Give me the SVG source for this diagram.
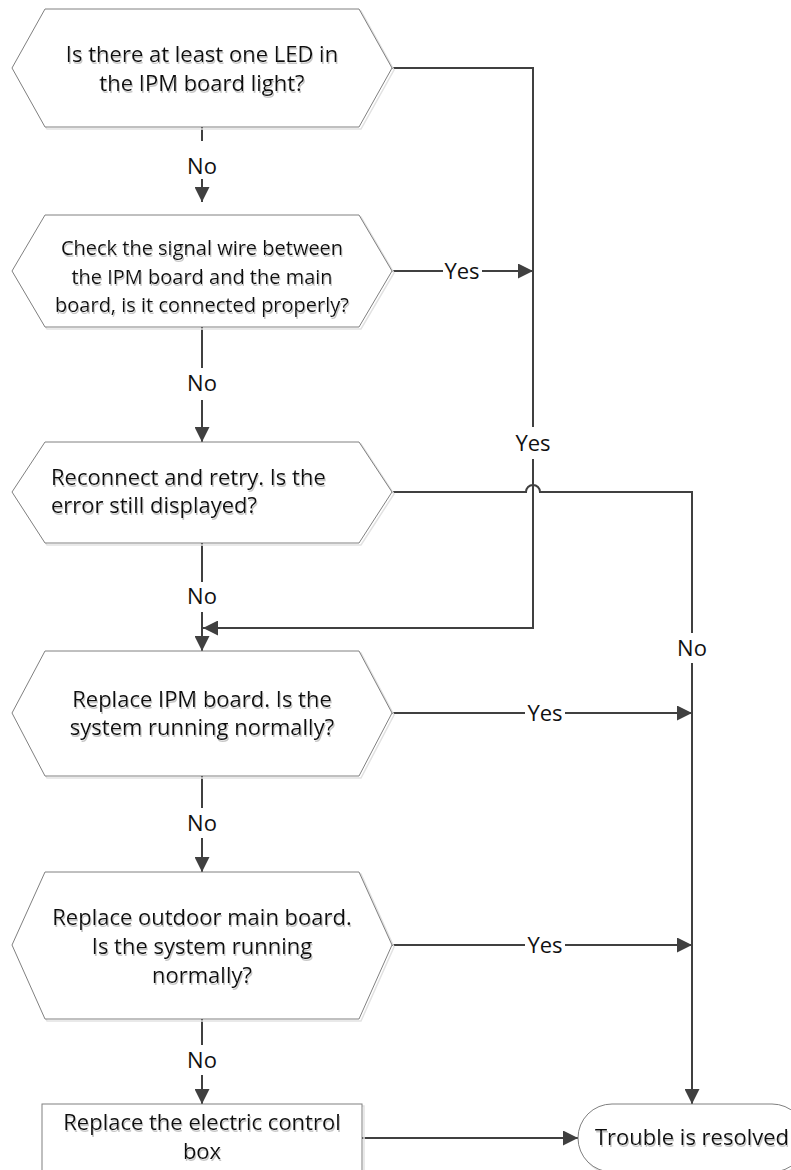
<svg xmlns="http://www.w3.org/2000/svg" width="791" height="1170" viewBox="0 0 791 1170">
<style>
.shadow{fill:none;stroke:#e2e2e2;stroke-width:1.5}
.shape{fill:#ffffff;stroke:#808080;stroke-width:1}
.t{font-family:"Open Sans","Noto Sans","DejaVu Sans",sans-serif;font-size:22px;fill:#111111}
.s{font-size:20px}
.c{text-anchor:middle}
.conn{fill:none;stroke:#404040;stroke-width:2}
.lblbg{fill:#ffffff}
.lbl{font-family:"Open Sans","Noto Sans","DejaVu Sans",sans-serif;font-size:22px;fill:#111111;text-anchor:middle}
</style>
<defs>
<marker id="arr" viewBox="0 0 15 15" refX="15" refY="7.5" markerWidth="15" markerHeight="15" orient="auto" markerUnits="userSpaceOnUse">
<path d="M0,0 L15,7.5 L0,15 z" fill="#404040"/>
</marker>
<filter id="ts" x="-5%" y="-20%" width="110%" height="150%">
<feDropShadow dx="1" dy="2" stdDeviation="0.6" flood-color="#b8b8b8" flood-opacity="0.8"/>
</filter>
</defs>
<rect width="791" height="1170" fill="#ffffff"/>

<g id="connectors">
<path class="conn" d="M202,127 V202" marker-end="url(#arr)"/>
<path class="conn" d="M202,327 V442" marker-end="url(#arr)"/>
<path class="conn" d="M202,543 V651" marker-end="url(#arr)"/>
<path class="conn" d="M202,776 V872" marker-end="url(#arr)"/>
<path class="conn" d="M202,1019 V1104" marker-end="url(#arr)"/>
<path class="conn" d="M392,68 H533 V628 H203" marker-end="url(#arr)"/>
<path class="conn" d="M392,271 H533" marker-end="url(#arr)"/>
<path class="conn" d="M392,492 H526 A7,7 0 0 1 540,492 H692 V1104" marker-end="url(#arr)"/>
<path class="conn" d="M392,713 H692" marker-end="url(#arr)"/>
<path class="conn" d="M392,945 H692" marker-end="url(#arr)"/>
<path class="conn" d="M362,1138 H578" marker-end="url(#arr)"/>
<rect class="lblbg" x="188" y="141" width="28" height="38"/>
<text class="lbl" x="202" y="174">No</text>
<rect class="lblbg" x="188" y="368" width="28" height="32"/>
<text class="lbl" x="202" y="391">No</text>
<rect class="lblbg" x="188" y="582" width="28" height="30"/>
<text class="lbl" x="202" y="604">No</text>
<rect class="lblbg" x="188" y="808" width="28" height="30"/>
<text class="lbl" x="202" y="831">No</text>
<rect class="lblbg" x="188" y="1045" width="28" height="30"/>
<text class="lbl" x="202" y="1068">No</text>
<rect class="lblbg" x="513" y="427" width="40" height="32"/>
<text class="lbl" x="533" y="451">Yes</text>
<rect class="lblbg" x="443" y="262" width="39" height="18"/>
<text class="lbl" x="462" y="279">Yes</text>
<rect class="lblbg" x="678" y="633" width="28" height="30"/>
<text class="lbl" x="692" y="656">No</text>
<rect class="lblbg" x="525" y="704" width="40" height="18"/>
<text class="lbl" x="545" y="721">Yes</text>
<rect class="lblbg" x="525" y="936" width="40" height="18"/>
<text class="lbl" x="545" y="953">Yes</text>
</g>

<g id="n1">
<polygon class="shadow" points="14,70 47,11 361,11 394,70 361,129 47,129"/>
<polygon class="shape" points="12,68 45,9 359,9 392,68 359,127 45,127"/>
<g filter="url(#ts)">
<text class="t c" x="202" y="62">Is there at least one LED in</text>
<text class="t c" x="202" y="91">the IPM board light?</text>
</g>
</g>

<g id="n2">
<polygon class="shadow" points="14,273 47,217 361,217 394,273 361,329 47,329"/>
<polygon class="shape" points="12,271 45,215 359,215 392,271 359,327 45,327"/>
<g filter="url(#ts)">
<text class="t s c" x="202" y="255">Check the signal wire between</text>
<text class="t s c" x="202" y="284">the IPM board and the main</text>
<text class="t s c" x="202" y="312">board, is it connected properly?</text>
</g>
</g>

<g id="n3">
<polygon class="shadow" points="14,494 47,444 361,444 394,494 361,545 47,545"/>
<polygon class="shape" points="12,492 45,442 359,442 392,492 359,543 45,543"/>
<g filter="url(#ts)">
<text class="t" x="51" y="485">Reconnect and retry. Is the</text>
<text class="t" x="51" y="513">error still displayed?</text>
</g>
</g>

<g id="n4">
<polygon class="shadow" points="14,715 47,653 361,653 394,715 361,778 47,778"/>
<polygon class="shape" points="12,713 45,651 359,651 392,713 359,776 45,776"/>
<g filter="url(#ts)">
<text class="t c" x="202" y="707">Replace IPM board. Is the</text>
<text class="t c" x="202" y="735">system running normally?</text>
</g>
</g>

<g id="n5">
<polygon class="shadow" points="14,947 47,874 361,874 394,947 361,1021 47,1021"/>
<polygon class="shape" points="12,945 45,872 359,872 392,945 359,1019 45,1019"/>
<g filter="url(#ts)">
<text class="t c" x="202" y="925">Replace outdoor main board.</text>
<text class="t c" x="202" y="954">Is the system running</text>
<text class="t c" x="202" y="983">normally?</text>
</g>
</g>

<g id="n6">
<rect class="shadow" x="44" y="1106" width="320" height="68"/>
<rect class="shape" x="42" y="1104" width="320" height="68"/>
<g filter="url(#ts)">
<text class="t c" x="202" y="1130">Replace the electric control</text>
<text class="t c" x="202" y="1159">box</text>
</g>
</g>

<g id="n7">
<rect class="shadow" x="580" y="1106" width="228" height="68" rx="34"/>
<rect class="shape" x="578" y="1104" width="228" height="68" rx="34"/>
<g filter="url(#ts)">
<text class="t c" x="692" y="1145">Trouble is resolved</text>
</g>
</g>
</svg>
